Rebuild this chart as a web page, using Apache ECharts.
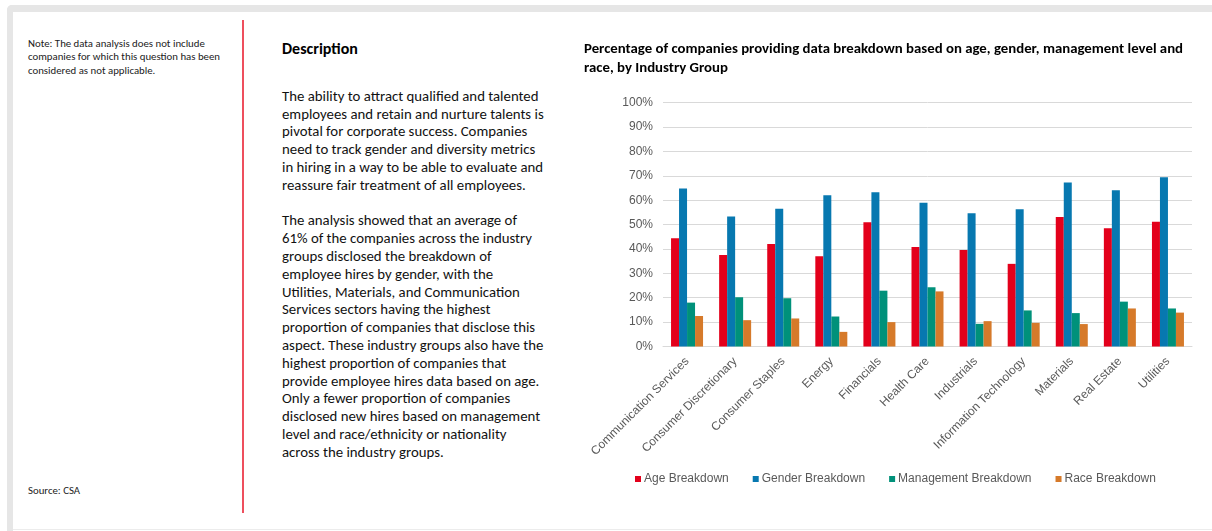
<!DOCTYPE html>
<html>
<head>
<meta charset="utf-8">
<script src="https://cdn.jsdelivr.net/npm/echarts@6/dist/echarts.min.js"></script>
<style>
  html, body { margin:0; padding:0; width:1212px; height:531px; background:#fff; overflow:hidden; }
  #frameTop { position:absolute; left:7px; top:5px; width:1205px; height:7px; background:#e6e6e6; border-top-left-radius:5px; }
  #frameLeft { position:absolute; left:7px; top:5px; width:6px; height:526px; background:#e6e6e6; border-top-left-radius:5px; }
  #frameBottom { position:absolute; left:13px; top:529px; width:1199px; height:1px; background:#ececec; }
  #redLine { position:absolute; left:242px; top:20px; width:2px; height:493px; background:#ee4f5d; }
  .txt { position:absolute; font-family: Carlito, Lato, "Open Sans", sans-serif; color:#000; white-space:nowrap; }
  #note { left:28px; top:37px; font-size:10.8px; line-height:13.3px; color:#222; }
  #source { left:28px; top:484px; font-size:10.8px; line-height:13.3px; color:#222; }
  #descHead { left:282px; top:40px; font-size:16px; line-height:17.8px; font-weight:bold; }
  #descBody { left:282px; top:87.8px; font-size:14.8px; line-height:17.8px; color:#111; }
  #chart { position:absolute; left:0; top:0; width:1212px; height:531px; }
</style>
</head>
<body>
<div id="frameTop"></div>
<div id="frameLeft"></div>
<div id="frameBottom"></div>
<div id="redLine"></div>
<div class="txt" id="note">Note: The data analysis does not include<br>companies for which this question has been<br>considered as not applicable.</div>
<div class="txt" id="source">Source: CSA</div>
<div class="txt" id="descHead">Description</div>
<div class="txt" id="descBody">The ability to attract qualified and talented<br>employees and retain and nurture talents is<br>pivotal for corporate success. Companies<br>need to track gender and diversity metrics<br>in hiring in a way to be able to evaluate and<br>reassure fair treatment of all employees.<br><br>The analysis showed that an average of<br>61% of the companies across the industry<br>groups disclosed the breakdown of<br>employee hires by gender, with the<br>Utilities, Materials, and Communication<br>Services sectors having the highest<br>proportion of companies that disclose this<br>aspect. These industry groups also have the<br>highest proportion of companies that<br>provide employee hires data based on age.<br>Only a fewer proportion of companies<br>disclosed new hires based on management<br>level and race/ethnicity or nationality<br>across the industry groups.</div>
<div id="chart"></div>
<script>
const categories = ["Communication Services","Consumer Discretionary","Consumer Staples","Energy","Financials","Health Care","Industrials","Information Technology","Materials","Real Estate","Utilities"];
const ageBreakdown = [44.4, 37.5, 42.0, 37.0, 51.0, 40.8, 39.6, 33.9, 53.1, 48.5, 51.2];
const genderBreakdown = [64.8, 53.3, 56.5, 62.0, 63.3, 59.0, 54.7, 56.3, 67.3, 64.1, 69.4];
const managementBreakdown = [18.0, 20.2, 19.8, 12.3, 22.9, 24.3, 9.3, 14.8, 13.7, 18.4, 15.6];
const raceBreakdown = [12.5, 10.8, 11.5, 6.0, 10.0, 22.6, 10.4, 9.7, 9.2, 15.6, 13.9];
const yTicks = [0, 10, 20, 30, 40, 50, 60, 70, 80, 90, 100];

const chart = echarts.init(document.getElementById('chart'), null, {renderer:'canvas'});
const labelFont = '"Liberation Sans", Arial, sans-serif';
function bar(name, data, color) {
  return { name, type:'bar', data, barWidth:8, barGap:'0%', itemStyle:{ color }, emphasis:{disabled:true} };
}
chart.setOption({
  animation:false,
  title: {
    text: 'Percentage of companies providing data breakdown based on age, gender, management level and\nrace, by Industry Group',
    left: 579, top: 35,
    textStyle: { fontFamily:'Carlito, Lato, "Open Sans", sans-serif', fontSize:14.8, fontWeight:'bold', color:'#000', lineHeight:19 }
  },
  grid: { left:663, right:20, top:102.7, bottom:184.5, containLabel:false },
  legend: {
    left: 630, top: 468, itemWidth:6, itemHeight:6, itemGap:24, icon:'rect',
    textStyle: { fontFamily:labelFont, fontSize:12, color:'#595959', padding:[0,0,0,-2] },
    data: ['Age Breakdown','Gender Breakdown','Management Breakdown','Race Breakdown']
  },
  xAxis: {
    type:'category', data:categories,
    axisLine:{ lineStyle:{ color:'#d9d9d9' } },
    axisTick:{ show:false },
    axisLabel:{ interval:0, rotate:45, fontFamily:labelFont, fontSize:12, color:'#595959', margin:13 }
  },
  yAxis: {
    type:'value', min:yTicks[0], max:yTicks[yTicks.length-1], interval:10,
    axisLine:{ show:false }, axisTick:{ show:false },
    splitLine:{ lineStyle:{ color:'#d9d9d9' } },
    axisLabel:{ formatter:'{value}%', fontFamily:labelFont, fontSize:12, color:'#595959', margin:10 }
  },
  series: [
    bar('Age Breakdown', ageBreakdown, '#e3001b'),
    bar('Gender Breakdown', genderBreakdown, '#0778b0'),
    bar('Management Breakdown', managementBreakdown, '#00917a'),
    bar('Race Breakdown', raceBreakdown, '#d67a2a')
  ]
});
</script>
</body>
</html>
